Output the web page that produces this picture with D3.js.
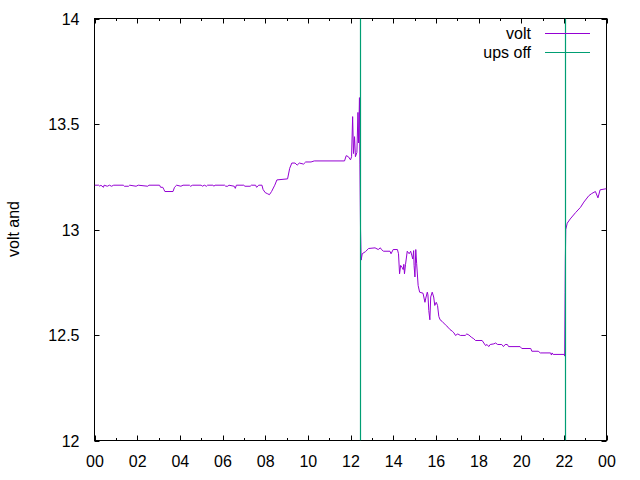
<!DOCTYPE html>
<html><head><meta charset="utf-8">
<script src="https://cdn.jsdelivr.net/npm/d3@7"></script>
<style>body{margin:0;background:#fff}svg{display:block}text{font-family:"Liberation Sans",Arial,sans-serif;font-size:16px;fill:#000}</style>
</head><body>
<script>
// time in hours, voltage in V
const voltTimes = [0.00,0.2,0.25,0.3,0.42,0.45,0.6,0.7,0.8,0.9,1.35,1.4,1.6,1.65,1.95,2.05,2.5,2.55,3.05,3.1,3.2,3.25,3.3,3.68,3.75,3.85,4.05,4.15,4.45,4.5,4.6,5.0,5.05,5.15,5.25,5.3,5.55,5.6,5.65,6.1,6.15,6.25,6.3,6.55,6.6,6.65,7.0,7.05,7.3,7.35,7.55,7.6,7.7,7.85,7.9,8.0,8.1,8.2,8.3,8.45,8.55,9.05,9.15,9.25,9.4,9.5,9.6,9.8,9.9,10.15,10.3,11.72,11.8,11.9,12.0,12.05,12.1,12.14,12.19,12.23,12.3,12.35,12.38,12.42,12.44,12.47,12.5,12.55,12.7,12.85,13.15,13.3,13.4,13.45,13.55,13.85,13.9,14.0,14.2,14.25,14.3,14.35,14.42,14.47,14.5,14.53,14.58,14.66,14.75,14.82,14.88,14.92,14.96,14.98,15.02,15.06,15.1,15.17,15.24,15.4,15.49,15.53,15.6,15.63,15.67,15.72,15.76,15.83,15.9,15.95,16.02,16.08,16.14,16.2,16.29,16.45,16.57,16.66,16.77,16.85,16.92,17.03,17.15,17.38,17.45,17.55,17.66,17.78,17.86,18.17,18.25,18.33,18.4,18.48,18.55,18.72,18.8,18.9,19.09,19.17,19.25,19.35,19.41,19.95,20.03,20.45,20.5,20.8,20.9,21.38,21.42,21.45,21.5,22.02,22.04,22.06,22.07,22.09,22.16,22.3,22.55,22.78,22.94,23.17,23.3,23.48,23.6,23.7,23.97,24.0];
const voltValues = [13.21,13.21,13.205,13.21,13.2,13.21,13.205,13.21,13.205,13.21,13.21,13.205,13.205,13.21,13.205,13.21,13.205,13.21,13.21,13.2,13.2,13.19,13.18,13.18,13.2,13.21,13.205,13.21,13.21,13.205,13.21,13.21,13.205,13.21,13.205,13.21,13.21,13.205,13.21,13.21,13.205,13.205,13.21,13.205,13.195,13.21,13.21,13.205,13.205,13.21,13.21,13.2,13.21,13.21,13.19,13.175,13.17,13.165,13.18,13.21,13.235,13.24,13.29,13.315,13.315,13.305,13.315,13.31,13.32,13.32,13.325,13.325,13.35,13.345,13.33,13.345,13.535,13.36,13.44,13.345,13.365,13.555,13.41,13.625,13.31,13.0,12.855,12.885,12.895,12.91,12.913,12.905,12.913,12.905,12.897,12.897,12.885,12.905,12.905,12.885,12.79,12.83,12.82,12.81,12.835,12.79,12.835,12.897,12.885,12.897,12.875,12.86,12.9,12.83,12.775,12.905,12.84,12.735,12.703,12.698,12.655,12.675,12.703,12.69,12.616,12.572,12.68,12.703,12.68,12.64,12.655,12.64,12.588,12.572,12.565,12.548,12.537,12.526,12.518,12.51,12.498,12.505,12.498,12.498,12.505,12.5,12.49,12.482,12.474,12.474,12.462,12.45,12.455,12.445,12.455,12.458,12.462,12.455,12.455,12.445,12.455,12.455,12.445,12.445,12.436,12.436,12.423,12.423,12.415,12.415,12.405,12.415,12.408,12.408,12.4,12.7,12.85,13.0,13.03,13.05,13.08,13.105,13.13,13.16,13.17,13.18,13.15,13.188,13.193,13.193,13.2];
const upsOffTimes = [12.47, 22.07];
const xTickValues = [0,2,4,6,8,10,12,14,16,18,20,22,24];
const xTickLabels = ["00","02","04","06","08","10","12","14","16","18","20","22","00"];
const yTickValues = [12,12.5,13,13.5,14];
const yTickLabels = ["12","12.5","13","13.5","14"];
const seriesNames = ["volt","ups off"];
const seriesColors = ["#9400d3","#009e73"];

const W=640,H=480, L=94.5, R=606.5, T=18.5, B=440.5;
const svg=d3.select("body").append("svg").attr("width",W).attr("height",H);
const x=d3.scaleLinear().domain([0,24]).range([L,R]);
const y=d3.scaleLinear().domain([12,14]).range([B,T]);

svg.append("clipPath").attr("id","c").append("rect").attr("x",L).attr("y",T).attr("width",R-L).attr("height",B-T);

// axes frame
svg.append("rect").attr("x",L).attr("y",T).attr("width",R-L).attr("height",B-T).attr("fill","none").attr("stroke","#000").attr("stroke-width",1);

const ax=svg.append("g").attr("transform",`translate(0,${B})`).call(d3.axisBottom(x).tickValues(xTickValues).tickSize(0).tickFormat((d,i)=>xTickLabels[i]));
ax.select(".domain").remove();
ax.selectAll("text").attr("dy",null).attr("y",26.5).style("font-size","16px");
const ay=svg.append("g").attr("transform",`translate(${L},0)`).call(d3.axisLeft(y).tickValues(yTickValues).tickSize(0).tickFormat((d,i)=>yTickLabels[i]));
ay.select(".domain").remove();
ay.selectAll("text").attr("x",-15).attr("dy","0.35em").style("font-size","16px");

// ticks (major and minor, mirrored)
const tk=svg.append("g").attr("stroke","#000").attr("stroke-width",1);
d3.range(0,25,1).forEach(h=>{
  const len = h%2===0 ? 5 : 2.5; const xx=Math.round(x(h))+0.5;
  tk.append("line").attr("x1",xx).attr("x2",xx).attr("y1",B).attr("y2",B-len);
  tk.append("line").attr("x1",xx).attr("x2",xx).attr("y1",T).attr("y2",T+len);
});
yTickValues.forEach(v=>{
  const yy=Math.round(y(v))+0.5;
  tk.append("line").attr("x1",L).attr("x2",L+5).attr("y1",yy).attr("y2",yy);
  tk.append("line").attr("x1",R).attr("x2",R-5).attr("y1",yy).attr("y2",yy);
});

// data
const volt=voltTimes.map((t,i)=>[t,voltValues[i]]);
const g=svg.append("g").attr("clip-path","url(#c)");
g.append("path").datum(volt).attr("fill","none").attr("stroke",seriesColors[0]).attr("stroke-width",1)
 .attr("d",d3.line().x(d=>x(d[0])).y(d=>y(d[1])));
g.selectAll("line.ups").data(upsOffTimes).enter().append("line").attr("class","ups")
 .attr("x1",d=>Math.floor(x(d))+0.5).attr("x2",d=>Math.floor(x(d))+0.5)
 .attr("y1",y(12)).attr("y2",y(14))
 .style("stroke",seriesColors[1]).style("stroke-width","1.2px");

// y label
svg.append("text").attr("transform","translate(19,229) rotate(-90)").attr("text-anchor","middle").text("volt and");

// legend
const legY=[33,52];
seriesNames.forEach((n,i)=>{
  svg.append("text").attr("x",531).attr("y",legY[i]).attr("dy","0.35em").attr("text-anchor","end").text(n);
  svg.append("line").attr("x1",545).attr("x2",590).attr("y1",legY[i]+0.5).attr("y2",legY[i]+0.5).attr("stroke",seriesColors[i]).attr("stroke-width",1.2);
});
</script>
</body></html>
